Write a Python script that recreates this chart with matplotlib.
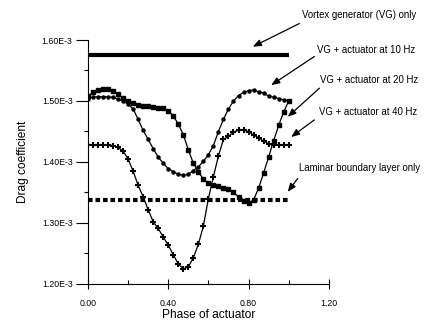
import matplotlib
matplotlib.use("Agg")
import matplotlib.pyplot as plt
from matplotlib.ticker import MultipleLocator, FuncFormatter

# phase of actuator (same grid for every run)
phase = [0.000, 0.025, 0.050, 0.075, 0.100, 0.125, 0.150, 0.175, 0.200, 0.225,
         0.250, 0.275, 0.300, 0.325, 0.350, 0.375, 0.400, 0.425, 0.450, 0.475,
         0.500, 0.525, 0.550, 0.575, 0.600, 0.625, 0.650, 0.675, 0.700, 0.725,
         0.750, 0.775, 0.800, 0.825, 0.850, 0.875, 0.900, 0.925, 0.950, 0.975,
         1.000]

# drag coefficient, in units of 1E-3
cd_10hz = [1.504, 1.506, 1.507, 1.507, 1.507, 1.506, 1.503, 1.500, 1.495, 1.487,
           1.470, 1.452, 1.437, 1.422, 1.408, 1.398, 1.389, 1.384, 1.380, 1.378,
           1.380, 1.386, 1.392, 1.401, 1.412, 1.427, 1.450, 1.470, 1.487, 1.500,
           1.509, 1.514, 1.517, 1.518, 1.515, 1.513, 1.508, 1.506, 1.504, 1.502,
           1.500]
cd_20hz = [1.508, 1.514, 1.518, 1.520, 1.519, 1.516, 1.511, 1.505, 1.500, 1.496,
           1.494, 1.492, 1.491, 1.490, 1.489, 1.488, 1.484, 1.476, 1.462, 1.445,
           1.420, 1.398, 1.384, 1.372, 1.365, 1.362, 1.360, 1.358, 1.356, 1.350,
           1.343, 1.336, 1.332, 1.338, 1.357, 1.382, 1.408, 1.435, 1.460, 1.482,
           1.500]
cd_40hz = [1.428, 1.428, 1.428, 1.428, 1.428, 1.427, 1.424, 1.418, 1.405, 1.385,
           1.362, 1.343, 1.322, 1.302, 1.291, 1.277, 1.264, 1.248, 1.233, 1.225,
           1.228, 1.243, 1.265, 1.295, 1.340, 1.376, 1.410, 1.437, 1.442, 1.449,
           1.452, 1.452, 1.450, 1.444, 1.440, 1.434, 1.430, 1.428, 1.428, 1.428,
           1.428]
cd_vg_only = [1.575] * len(phase)
cd_laminar = [1.337] * len(phase)

labels = ["Vortex generator (VG) only", "VG + actuator at 10 Hz",
          "VG + actuator at 20 Hz", "VG + actuator at 40 Hz",
          "Laminar boundary layer only"]

plt.rcParams["font.family"] = ["Liberation Sans", "DejaVu Sans"]
fig = plt.figure(figsize=(4.31, 3.2), dpi=100)
ax = fig.add_axes([0.204, 0.1125, 0.559, 0.7625])

ax.plot(phase, cd_vg_only, color="black", lw=3.0, solid_capstyle="butt")
ax.plot(phase, cd_10hz, color="black", lw=0.9, marker="o", ms=2.2)
ax.plot(phase, cd_20hz, color="black", lw=0.9, marker="s", ms=3.3)
ax.plot(phase, cd_40hz, color="black", lw=0.9, marker="+", ms=4.2, mew=1.5)
ax.plot(phase, cd_laminar, color="black", lw=3.0, dashes=(1.1, 0.7))

ax.set_xlim(0, 1.2)
ax.set_ylim(1.20, 1.60)
ax.spines["top"].set_visible(False)
ax.spines["right"].set_visible(False)
ax.xaxis.set_major_locator(MultipleLocator(0.4))
ax.xaxis.set_minor_locator(MultipleLocator(0.2))
ax.yaxis.set_major_locator(MultipleLocator(0.1))
ax.yaxis.set_minor_locator(MultipleLocator(0.05))
ax.xaxis.set_major_formatter(FuncFormatter(lambda v, p: f"{v:.2f}"))
ax.yaxis.set_major_formatter(FuncFormatter(lambda v, p: f"{v:.2f}E-3"))
ax.tick_params(axis="x", which="major", direction="inout", length=7, width=0.8,
               labelsize=6.3, pad=7)
ax.tick_params(axis="x", which="minor", direction="in", length=3, width=0.8)
ax.tick_params(axis="y", which="major", direction="out", length=9, width=0.8,
               labelsize=6.3, pad=2)
ax.tick_params(axis="y", which="minor", direction="out", length=3, width=0.8)
ax.set_xlabel("Phase of actuator", fontsize=8.6, labelpad=1)
ax.set_ylabel("Drag coefficient", fontsize=8.6, labelpad=9)

# label text position, arrow tail, arrow tip (data coordinates)
text_pos = [(1.068, 1.641), (1.143, 1.584), (1.156, 1.534), (1.153, 1.482), (1.053, 1.390)]
arrow_tail = [(1.053, 1.627), (1.128, 1.573), (1.153, 1.521), (1.128, 1.469), (1.045, 1.373)]
arrow_tip = [(0.821, 1.589), (0.913, 1.526), (0.995, 1.474), (1.012, 1.441), (0.995, 1.351)]

for lab, tp, tail, tip in zip(labels, text_pos, arrow_tail, arrow_tip):
    ax.text(tp[0], tp[1], lab, fontsize=6.9, ha="left", va="center", clip_on=False)
    ax.annotate("", xy=tip, xytext=tail, annotation_clip=False,
                arrowprops=dict(arrowstyle="-|>,head_length=0.5,head_width=0.2",
                                color="black", lw=0.9, shrinkA=0, shrinkB=0))

fig.savefig("out.png", dpi=100)
